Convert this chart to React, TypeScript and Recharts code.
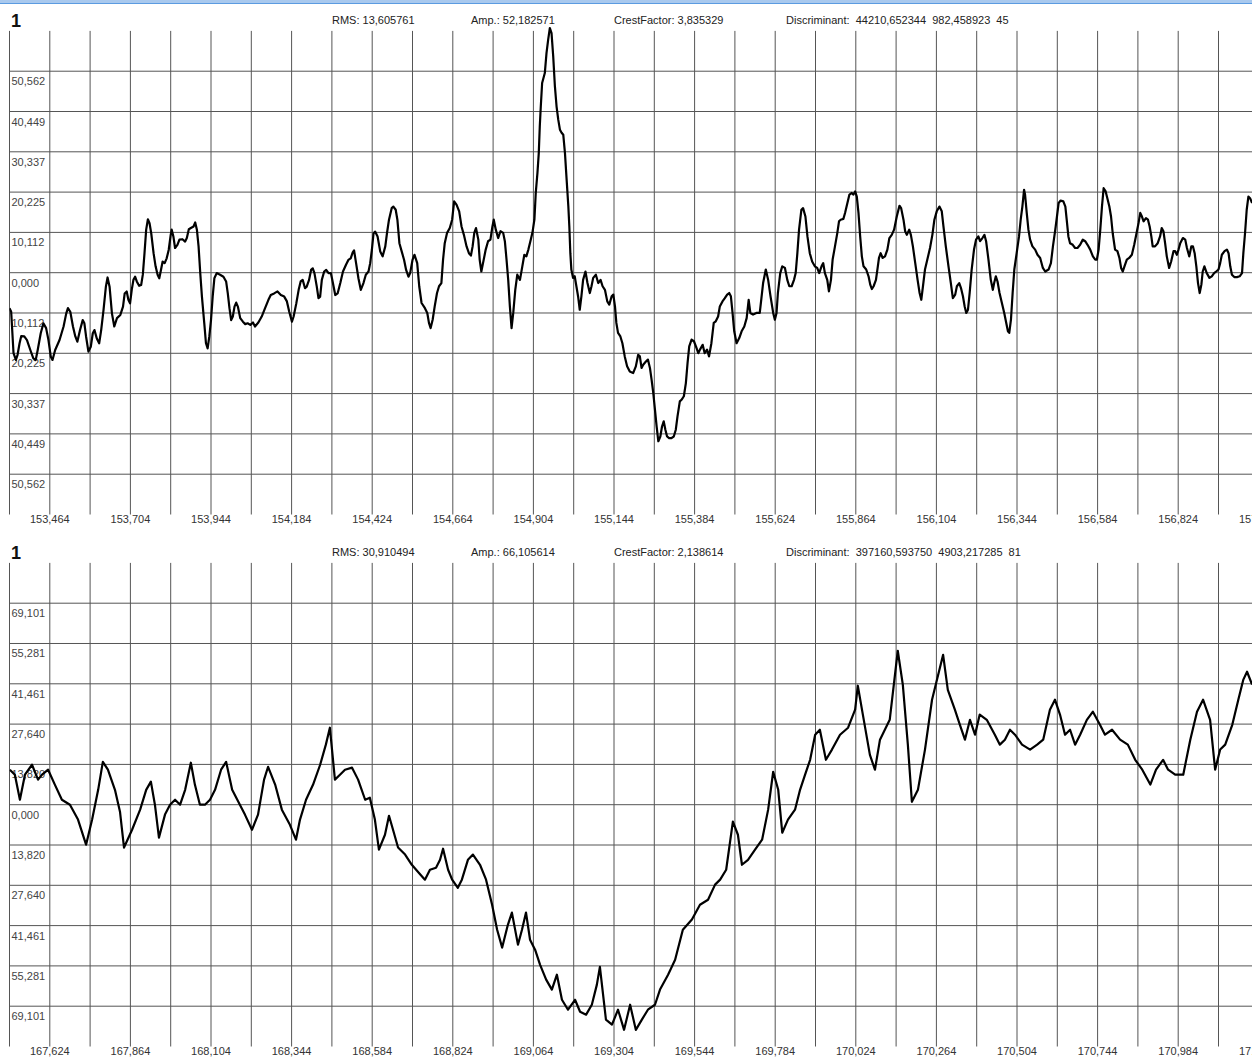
import React from 'react';
import { LineChart, Line, XAxis, YAxis, ReferenceLine } from 'recharts';

const FONT = '"Liberation Sans", Arial, sans-serif';

// [time (s), amplitude]
const topSignal: [number, number][] = [
  [153.344,-8.9],[153.349,-9.8],[153.356,-20.2],[153.363,-21.9],[153.368,-20.6],[153.374,-17.7],[153.379,-15.9],[153.388,-16.0],[153.396,-16.9],[153.406,-19.4],
  [153.415,-21.5],[153.422,-21.9],[153.428,-19.4],[153.437,-15.2],[153.445,-12.7],[153.453,-13.9],[153.460,-16.9],[153.467,-21.1],[153.472,-21.9],[153.480,-19.4],
  [153.493,-16.9],[153.505,-13.5],[153.513,-10.2],[153.518,-8.9],[153.525,-9.8],[153.533,-13.5],[153.540,-16.0],[153.546,-17.3],[153.554,-14.4],[153.562,-11.9],
  [153.567,-12.7],[153.572,-16.0],[153.579,-19.8],[153.586,-18.6],[153.592,-15.2],[153.597,-14.4],[153.604,-16.5],[153.611,-17.7],[153.617,-14.4],[153.624,-9.3],
  [153.631,-3.5],[153.636,-1.2],[153.642,-3.5],[153.649,-10.2],[153.656,-13.5],[153.664,-11.4],[153.674,-10.6],[153.682,-8.5],[153.687,-5.2],[153.693,-4.7],
  [153.698,-6.8],[153.703,-7.7],[153.708,-4.3],[153.713,-1.8],[153.718,-1.0],[153.723,-2.2],[153.730,-3.3],[153.736,-3.1],[153.741,-0.5],[153.746,4.9],
  [153.751,10.8],[153.756,13.4],[153.761,12.4],[153.766,9.9],[153.773,4.9],[153.779,1.6],[153.785,-0.5],[153.790,-1.4],[153.795,0.7],[153.800,2.8],
  [153.806,2.4],[153.812,3.6],[153.818,5.7],[153.824,9.5],[153.827,10.8],[153.832,9.1],[153.837,6.2],[153.844,7.0],[153.850,8.3],[153.859,8.4],
  [153.867,7.8],[153.872,8.7],[153.878,10.9],[153.884,11.2],[153.892,11.6],[153.897,12.6],[153.902,10.8],[153.907,6.6],[153.912,-0.1],[153.917,-6.0],
  [153.924,-12.7],[153.929,-17.7],[153.934,-19.0],[153.939,-16.0],[153.944,-11.9],[153.949,-6.0],[153.954,-1.4],[153.961,-0.1],[153.971,-0.5],[153.981,-1.0],
  [153.989,-2.2],[153.994,-5.2],[153.999,-8.9],[154.004,-11.9],[154.009,-11.0],[154.014,-8.5],[154.019,-7.5],[154.024,-8.5],[154.031,-11.4],[154.039,-12.3],
  [154.046,-12.9],[154.053,-12.7],[154.061,-13.1],[154.069,-12.5],[154.075,-13.5],[154.085,-12.5],[154.095,-11.0],[154.105,-8.9],[154.115,-6.8],[154.122,-5.6],
  [154.132,-5.2],[154.142,-4.7],[154.152,-5.6],[154.162,-6.0],[154.170,-7.2],[154.177,-9.8],[154.185,-12.3],[154.190,-11.0],[154.198,-7.7],[154.205,-4.3],
  [154.211,-2.2],[154.217,-1.8],[154.224,-3.9],[154.229,-3.5],[154.236,-1.8],[154.242,0.7],[154.247,1.1],[154.252,-0.1],[154.259,-3.5],[154.264,-6.4],
  [154.269,-6.0],[154.274,-1.8],[154.281,0.3],[154.287,0.7],[154.294,-0.1],[154.301,-0.1],[154.307,-2.6],[154.314,-5.6],[154.321,-5.2],[154.329,-2.6],
  [154.337,0.3],[154.346,2.0],[154.353,3.2],[154.360,3.6],[154.366,5.1],[154.370,5.6],[154.376,2.4],[154.383,-1.4],[154.390,-4.3],[154.398,-2.6],
  [154.405,-0.5],[154.413,0.3],[154.418,2.4],[154.423,5.7],[154.428,9.9],[154.433,10.3],[154.440,9.1],[154.448,5.3],[154.455,4.1],[154.463,6.6],
  [154.468,9.9],[154.474,13.3],[154.482,16.2],[154.487,16.6],[154.494,15.8],[154.499,13.3],[154.505,7.4],[154.512,5.3],[154.519,3.2],[154.525,0.7],
  [154.532,-1.0],[154.537,-0.1],[154.544,3.2],[154.550,4.5],[154.558,2.4],[154.564,-3.4],[154.571,-7.6],[154.581,-8.9],[154.588,-10.1],[154.593,-12.6],
  [154.598,-13.9],[154.604,-11.8],[154.610,-8.5],[154.617,-5.1],[154.623,-3.4],[154.630,-2.6],[154.635,3.3],[154.640,7.4],[154.647,10.0],[154.655,11.2],
  [154.662,13.3],[154.668,17.9],[154.675,17.1],[154.683,15.4],[154.690,11.6],[154.697,9.5],[154.705,6.6],[154.712,4.9],[154.718,4.3],[154.723,6.6],
  [154.728,10.0],[154.733,11.2],[154.740,8.3],[154.744,3.3],[154.749,0.3],[154.754,2.4],[154.762,5.8],[154.769,7.9],[154.776,8.3],[154.782,11.6],
  [154.786,13.3],[154.792,10.8],[154.799,8.7],[154.806,10.4],[154.814,10.0],[154.819,7.9],[154.824,3.3],[154.829,-1.8],[154.834,-8.5],[154.839,-13.9],
  [154.844,-10.1],[154.850,-4.3],[154.856,-0.5],[154.864,-1.8],[154.871,1.6],[154.877,4.5],[154.883,4.1],[154.889,5.8],[154.895,7.9],[154.901,10.0],
  [154.907,13.3],[154.911,20.0],[154.916,25.0],[154.920,30.0],[154.923,36.7],[154.926,41.7],[154.930,47.6],[154.938,50.1],[154.943,55.1],[154.948,58.5],
  [154.953,61.4],[154.958,60.1],[154.963,54.3],[154.968,46.8],[154.973,41.7],[154.978,38.4],[154.983,35.9],[154.988,35.1],[154.993,34.6],[154.998,30.0],
  [155.003,23.3],[155.008,16.7],[155.011,11.6],[155.014,4.9],[155.017,0.8],[155.022,-1.3],[155.027,-0.9],[155.032,-3.4],[155.037,-5.9],[155.042,-9.3],
  [155.047,-5.9],[155.052,-1.8],[155.059,0.3],[155.065,-2.6],[155.072,-5.1],[155.077,-3.4],[155.082,-1.3],[155.090,-0.5],[155.097,-2.6],[155.104,-1.8],
  [155.110,-3.4],[155.117,-4.3],[155.124,-7.2],[155.130,-8.0],[155.137,-5.9],[155.142,-5.5],[155.147,-8.5],[155.151,-12.6],[155.156,-15.1],[155.163,-16.0],
  [155.169,-17.7],[155.176,-21.0],[155.183,-23.5],[155.191,-24.8],[155.201,-25.2],[155.209,-23.5],[155.216,-20.6],[155.221,-21.0],[155.226,-23.9],[155.231,-23.1],
  [155.239,-22.3],[155.245,-21.8],[155.251,-23.9],[155.256,-26.9],[155.261,-30.2],[155.266,-34.4],[155.271,-38.6],[155.276,-42.3],[155.282,-41.1],[155.287,-38.6],
  [155.292,-37.3],[155.297,-39.4],[155.302,-41.1],[155.308,-41.5],[155.315,-41.5],[155.322,-41.1],[155.328,-39.4],[155.333,-36.1],[155.340,-32.3],[155.345,-31.9],
  [155.352,-31.0],[155.358,-27.7],[155.363,-22.7],[155.368,-18.5],[155.375,-16.8],[155.382,-17.2],[155.388,-18.5],[155.395,-20.2],[155.400,-19.3],[155.408,-18.1],
  [155.414,-20.2],[155.421,-19.3],[155.427,-21.0],[155.434,-17.7],[155.441,-12.6],[155.447,-12.2],[155.454,-11.0],[155.459,-8.5],[155.467,-7.2],[155.474,-6.4],
  [155.481,-5.5],[155.487,-5.1],[155.492,-5.9],[155.497,-10.1],[155.502,-14.7],[155.509,-17.7],[155.517,-16.4],[155.524,-14.7],[155.532,-13.5],[155.539,-11.4],
  [155.545,-6.8],[155.550,-10.1],[155.558,-10.5],[155.568,-10.1],[155.578,-10.1],[155.583,-6.4],[155.588,-2.6],[155.596,0.8],[155.603,-1.8],[155.610,-5.9],
  [155.618,-10.1],[155.623,-11.8],[155.628,-10.1],[155.632,-5.1],[155.639,-0.1],[155.645,1.6],[155.653,1.2],[155.660,-1.8],[155.666,-3.4],[155.673,-3.4],
  [155.680,-1.8],[155.685,-0.1],[155.690,4.9],[155.695,10.8],[155.702,15.8],[155.707,16.2],[155.714,14.1],[155.720,9.1],[155.727,4.9],[155.734,2.8],
  [155.742,1.6],[155.749,1.2],[155.755,-0.1],[155.762,1.6],[155.767,2.4],[155.772,-0.1],[155.779,-1.8],[155.784,-4.7],[155.790,-1.8],[155.795,3.3],
  [155.802,6.6],[155.809,10.0],[155.814,12.9],[155.819,13.3],[155.827,13.5],[155.832,15.0],[155.839,17.5],[155.845,19.6],[155.852,20.0],[155.857,19.6],
  [155.862,20.4],[155.867,19.1],[155.872,15.0],[155.877,9.1],[155.882,4.1],[155.887,1.6],[155.895,0.8],[155.902,-0.9],[155.907,-3.0],[155.912,-4.1],
  [155.917,-3.4],[155.924,-1.8],[155.929,1.2],[155.933,3.7],[155.938,4.9],[155.944,3.7],[155.951,4.1],[155.958,5.8],[155.964,8.7],[155.971,9.5],
  [155.978,10.8],[155.986,14.1],[155.994,16.8],[155.999,16.2],[156.006,13.3],[156.011,10.4],[156.016,9.5],[156.023,10.8],[156.028,9.5],[156.034,6.6],
  [156.041,2.4],[156.048,-1.8],[156.054,-5.1],[156.059,-6.8],[156.064,-3.4],[156.070,0.8],[156.077,3.3],[156.085,6.2],[156.092,9.5],[156.098,13.3],
  [156.105,15.4],[156.113,16.6],[156.120,15.4],[156.125,11.6],[156.132,6.6],[156.140,1.6],[156.147,-2.6],[156.153,-6.4],[156.160,-5.5],[156.165,-3.4],
  [156.172,-2.6],[156.177,-3.8],[156.183,-5.9],[156.188,-8.4],[156.193,-10.1],[156.198,-9.3],[156.203,-5.1],[156.209,0.8],[156.216,5.8],[156.222,8.3],
  [156.229,9.1],[156.234,7.9],[156.241,8.7],[156.247,9.5],[156.252,7.9],[156.259,3.3],[156.266,-1.8],[156.272,-4.3],[156.276,-2.6],[156.281,-0.9],
  [156.286,-2.2],[156.292,-5.1],[156.299,-7.6],[156.306,-10.1],[156.312,-12.6],[156.317,-14.7],[156.321,-15.1],[156.326,-11.8],[156.331,-5.1],[156.336,0.8],
  [156.343,4.9],[156.350,9.1],[156.355,13.3],[156.360,16.6],[156.365,20.8],[156.368,19.6],[156.373,15.0],[156.378,10.8],[156.383,8.3],[156.390,6.6],
  [156.398,5.8],[156.405,4.5],[156.413,3.7],[156.421,1.2],[156.428,0.3],[156.438,0.8],[156.445,2.4],[156.451,6.6],[156.458,10.8],[156.463,14.1],
  [156.468,17.5],[156.474,18.1],[156.482,17.9],[156.488,16.6],[156.492,13.3],[156.497,9.1],[156.502,7.4],[156.510,7.0],[156.517,6.2],[156.524,6.2],
  [156.532,7.0],[156.540,8.3],[156.547,7.9],[156.554,7.0],[156.562,5.8],[156.570,4.1],[156.577,3.3],[156.582,3.3],[156.587,5.8],[156.592,10.8],
  [156.597,16.6],[156.602,21.2],[156.608,20.4],[156.613,18.7],[156.619,16.6],[156.624,14.1],[156.629,9.9],[156.636,5.8],[156.643,5.4],[156.649,3.7],
  [156.654,1.2],[156.659,0.3],[156.664,1.6],[156.671,3.3],[156.678,3.7],[156.686,4.5],[156.693,7.0],[156.699,9.5],[156.706,12.5],[156.711,15.0],
  [156.716,14.1],[156.721,12.9],[156.728,13.7],[156.734,13.3],[156.739,11.6],[156.744,9.1],[156.748,6.6],[156.755,6.6],[156.763,7.4],[156.770,9.1],
  [156.775,11.2],[156.780,10.4],[156.785,7.4],[156.790,4.1],[156.797,1.2],[156.803,2.8],[156.810,5.4],[156.815,5.4],[156.820,4.5],[156.825,5.8],
  [156.830,7.4],[156.838,8.7],[156.845,8.3],[156.850,6.2],[156.857,4.1],[156.863,6.6],[156.868,6.6],[156.873,4.9],[156.878,1.6],[156.883,-2.6],
  [156.888,-5.1],[156.893,-3.0],[156.897,0.3],[156.902,1.6],[156.909,-0.1],[156.917,-1.3],[156.924,-0.9],[156.931,-0.1],[156.937,0.3],[156.944,0.8],
  [156.949,2.4],[156.954,4.5],[156.962,5.4],[156.969,5.8],[156.974,4.9],[156.979,1.6],[156.984,-0.5],[156.991,-1.1],[156.999,-1.1],[157.007,-0.9],
  [157.014,-0.1],[157.018,4.9],[157.023,9.9],[157.028,15.8],[157.033,19.1],[157.038,18.7],[157.044,17.5],
];

// [time (s), amplitude]
const bottomSignal: [number, number][] = [
  [167.505,12.0],[167.520,10.3],[167.535,1.7],[167.550,10.3],[167.571,13.7],[167.589,8.6],[167.601,10.3],[167.619,12.0],[167.639,6.9],[167.660,1.7],
  [167.684,0.0],[167.708,-5.1],[167.732,-13.7],[167.750,-5.1],[167.768,5.1],[167.782,14.7],[167.797,12.0],[167.818,5.1],[167.833,-2.4],[167.845,-14.7],
  [167.869,-8.6],[167.893,-1.7],[167.911,5.1],[167.925,7.9],[167.937,0.0],[167.949,-11.3],[167.967,-3.4],[167.982,0.0],[167.997,1.7],[168.012,0.0],
  [168.027,5.1],[168.044,14.4],[168.056,6.9],[168.071,0.0],[168.086,0.0],[168.101,1.7],[168.116,5.1],[168.134,12.0],[168.149,14.7],[168.167,5.1],
  [168.190,0.0],[168.205,-3.4],[168.226,-8.6],[168.244,-3.4],[168.262,8.6],[168.274,13.0],[168.295,6.9],[168.315,-1.7],[168.339,-6.9],[168.357,-12.0],
  [168.369,-5.1],[168.387,1.7],[168.408,6.9],[168.429,13.7],[168.446,20.6],[168.458,26.4],[168.473,8.6],[168.488,10.3],[168.503,12.0],[168.524,12.7],
  [168.542,8.6],[168.563,1.7],[168.577,2.4],[168.592,-5.1],[168.604,-15.4],[168.622,-10.3],[168.634,-3.8],[168.646,-8.6],[168.661,-14.7],[168.682,-17.1],
  [168.702,-20.6],[168.720,-23.0],[168.741,-25.7],[168.756,-22.3],[168.774,-21.6],[168.786,-18.9],[168.795,-15.1],[168.810,-22.3],[168.822,-25.7],[168.839,-28.5],
  [168.851,-25.7],[168.869,-18.9],[168.884,-17.1],[168.905,-20.6],[168.923,-25.7],[168.941,-34.3],[168.956,-42.9],[168.971,-49.0],[168.988,-41.2],[169.000,-37.0],
  [169.018,-48.0],[169.030,-42.9],[169.042,-37.0],[169.054,-46.3],[169.069,-49.7],[169.084,-54.9],[169.102,-60.0],[169.119,-63.4],[169.134,-58.3],[169.149,-66.9],
  [169.167,-70.3],[169.188,-66.9],[169.203,-71.0],[169.221,-72.0],[169.238,-68.6],[169.253,-61.7],[169.262,-55.6],[169.280,-73.7],[169.298,-75.4],[169.316,-70.3],
  [169.334,-77.2],[169.352,-68.6],[169.369,-77.2],[169.387,-73.7],[169.405,-70.3],[169.426,-68.6],[169.441,-63.4],[169.465,-58.3],[169.486,-53.2],[169.509,-42.9],
  [169.536,-39.4],[169.560,-34.3],[169.584,-32.6],[169.605,-27.4],[169.620,-25.7],[169.638,-22.3],[169.658,-5.8],[169.673,-10.3],[169.685,-20.6],[169.703,-18.9],
  [169.724,-15.4],[169.745,-12.0],[169.763,-1.7],[169.778,11.3],[169.793,5.1],[169.805,-9.6],[169.822,-5.1],[169.843,-1.7],[169.858,5.1],[169.873,10.3],
  [169.888,15.4],[169.903,24.0],[169.917,25.7],[169.935,15.4],[169.953,18.9],[169.977,24.0],[170.001,26.4],[170.022,32.6],[170.030,40.8],[170.045,30.9],
  [170.066,17.1],[170.081,12.0],[170.096,22.3],[170.125,29.1],[170.149,52.8],[170.164,41.2],[170.179,20.6],[170.191,1.0],[170.209,5.1],[170.230,18.9],
  [170.251,36.0],[170.284,51.4],[170.298,39.4],[170.319,32.6],[170.334,27.4],[170.349,22.3],[170.364,29.1],[170.379,24.0],[170.393,30.9],[170.414,29.1],
  [170.438,24.0],[170.453,20.6],[170.468,22.3],[170.483,25.7],[170.498,24.0],[170.519,20.6],[170.543,18.9],[170.564,20.6],[170.582,22.3],[170.602,32.6],
  [170.617,36.0],[170.632,30.9],[170.647,24.0],[170.662,25.7],[170.677,20.6],[170.692,24.0],[170.712,29.1],[170.730,31.9],[170.751,27.4],[170.766,24.0],
  [170.787,25.7],[170.811,22.3],[170.834,20.6],[170.856,15.4],[170.877,12.0],[170.901,6.9],[170.918,12.0],[170.939,15.4],[170.954,12.0],[170.975,10.3],
  [170.999,10.3],[171.020,22.3],[171.040,31.9],[171.058,36.0],[171.079,29.1],[171.094,12.0],[171.109,18.9],[171.124,20.6],[171.145,27.4],[171.163,36.0],
  [171.178,42.9],[171.189,45.6],[171.204,41.2],
];

const topYTicks = [50.562, 40.449, 30.337, 20.225, 10.112, 0, -10.112, -20.225, -30.337, -40.449, -50.562];
const bottomYTicks = [69.101, 55.281, 41.461, 27.64, 13.82, 0, -13.82, -27.64, -41.461, -55.281, -69.101];

const topXTicks = [153.464, 153.704, 153.944, 154.184, 154.424, 154.664, 154.904, 155.144, 155.384, 155.624, 155.864, 156.104, 156.344, 156.584, 156.824, 157.064];
const bottomXTicks = [167.624, 167.864, 168.104, 168.344, 168.584, 168.824, 169.064, 169.304, 169.544, 169.784, 170.024, 170.264, 170.504, 170.744, 170.984, 171.224];

const topStats = ['RMS: 13,605761', 'Amp.: 52,182571', 'CrestFactor: 3,835329', 'Discriminant:  44210,652344  982,458923  45'];
const bottomStats = ['RMS: 30,910494', 'Amp.: 66,105614', 'CrestFactor: 2,138614', 'Discriminant:  397160,593750  4903,217285  81'];

const statX = [332, 471, 614, 786];
const GRID = '#555';

// labels are printed without the sign, the way the scope shows them
const fmt = (v: number) => Math.abs(v).toFixed(3).replace('.', ',');

interface PanelProps {
  top: number;
  signal: [number, number][];
  yTicks: number[];
  xTicks: number[];
  stats: string[];
}

const Panel: React.FC<PanelProps> = ({ top, signal, yTicks, xTicks, stats }) => {
  const data = signal.map(([t, v]) => ({ t, v }));
  const xStep = (xTicks[1] - xTicks[0]) / 2;
  const x0 = xTicks[0] - xStep;
  const x1 = xTicks[xTicks.length - 1];
  const yStep = yTicks[0] - yTicks[1];
  const gMin = -6 * yStep;
  const gMax = 6 * yStep;
  // plot area reaches a little above the grid so the peaks are not clipped
  const yMax = gMax * (255 / 241.8);
  const vLines = Array.from({ length: xTicks.length * 2 }, (_, i) => x0 + i * xStep);

  return (
    <div style={{ position: 'absolute', left: 0, top, width: 1260, height: 532 }}>
      <div style={{ position: 'absolute', left: 11, top: 11.5, fontSize: 18, lineHeight: 1, fontWeight: 'bold', color: '#111' }}>1</div>
      {stats.map((s, i) => (
        <div key={i} style={{ position: 'absolute', left: statX[i], top: 14.5, fontSize: 11, lineHeight: 1, color: '#222', whiteSpace: 'pre' }}>{s}</div>
      ))}
      <LineChart width={1260} height={532} data={data} margin={{ top: 17.7, right: 1.2, bottom: 0, left: 9.5 }}>
        <XAxis
          dataKey="t"
          type="number"
          domain={[x0, x1]}
          allowDataOverflow
          ticks={xTicks}
          interval={0}
          tickFormatter={(v: number) => v.toFixed(3).replace('.', ',')}
          tickLine={false}
          axisLine={false}
          tickSize={0}
          tickMargin={1}
          height={17.5}
          tick={{ fontSize: 11, fill: '#333', fontFamily: FONT }}
        />
        <YAxis type="number" domain={[gMin, yMax]} allowDataOverflow hide />
        {vLines.map((x, i) => (
          <ReferenceLine key={'v' + i} segment={[{ x, y: gMin }, { x, y: gMax }]} stroke={GRID} strokeWidth={1} ifOverflow="visible" />
        ))}
        {yTicks.map((y, i) => (
          <ReferenceLine
            key={'h' + i}
            y={y}
            stroke={GRID}
            strokeWidth={1}
            ifOverflow="visible"
            label={(p: any) => (
              <text x={p.viewBox.x + 2} y={p.viewBox.y + 14} fontSize={11} fill="#444" fontFamily={FONT}>
                {fmt(y)}
              </text>
            )}
          />
        ))}
        <Line type="linear" dataKey="v" stroke="#000" strokeWidth={2.2} dot={false} isAnimationActive={false} strokeLinejoin="round" />
      </LineChart>
    </div>
  );
};

export default function App() {
  return (
    <div style={{ position: 'absolute', left: 0, top: 0, width: 1252, height: 1058, overflow: 'hidden', background: '#fff', fontFamily: FONT }}>
      <div style={{ position: 'absolute', left: 0, top: 0, width: 1252, height: 3, background: '#a9c9ee', borderBottom: '1px solid #5b9be0' }} />
      <Panel top={0} signal={topSignal} yTicks={topYTicks} xTicks={topXTicks} stats={topStats} />
      <Panel top={532.3} signal={bottomSignal} yTicks={bottomYTicks} xTicks={bottomXTicks} stats={bottomStats} />
    </div>
  );
}
